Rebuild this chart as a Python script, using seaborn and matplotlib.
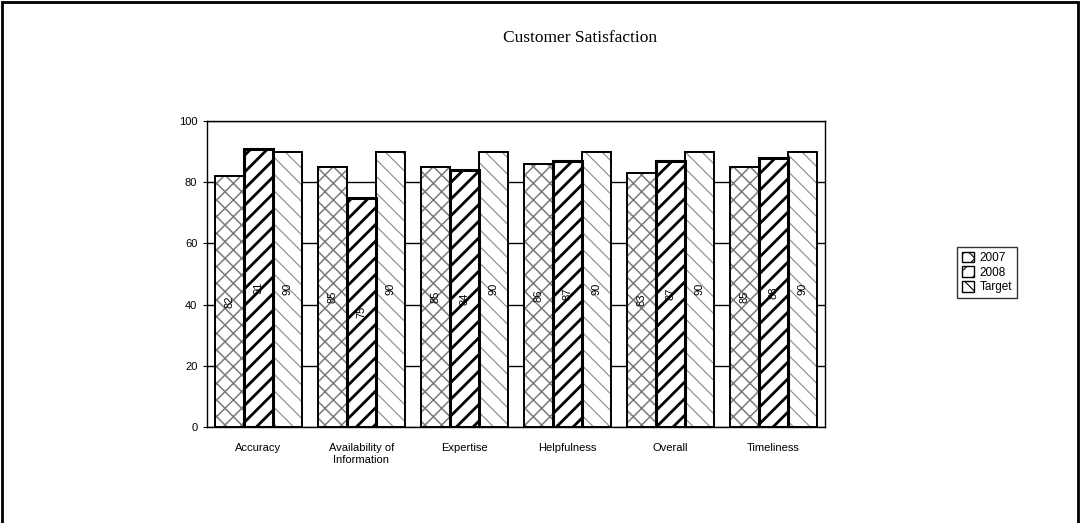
import matplotlib
matplotlib.use('agg')
import matplotlib.pyplot as plt
from matplotlib.patches import Rectangle, Patch
import pandas as pd
import seaborn as sns

categories = ["Accuracy", "Availability of\nInformation", "Expertise",
              "Helpfulness", "Overall", "Timeliness"]
vals_2007 = [82, 85, 85, 86, 83, 85]
vals_2008 = [91, 75, 84, 87, 87, 88]
vals_target = [90, 90, 90, 90, 90, 90]
series = ["2007", "2008", "Target"]

df = pd.DataFrame({
    "category": categories * 3,
    "series": [s for s in series for _ in categories],
    "value": vals_2007 + vals_2008 + vals_target,
})

sns.set_style("white")
plt.rcParams['font.family'] = ['Liberation Sans', 'DejaVu Sans']
plt.rcParams['text.color'] = 'black'
plt.rcParams['xtick.color'] = 'black'
plt.rcParams['ytick.color'] = 'black'
plt.rcParams['hatch.linewidth'] = 0.8

fig = plt.figure(figsize=(10.8, 5.23), dpi=100)
ax = fig.add_axes([0.1917, 0.1836, 0.572, 0.585])

sns.barplot(data=df, x="category", y="value", hue="series", order=categories,
            hue_order=series, width=0.85, gap=0, ax=ax, legend=False,
            palette=["white"] * 3, saturation=1)

# hatch pattern, hatch colour, hatch width per series
styles = [("xx", "#7a7a7a", 1.1), ("//", "black", 2.0), ("\\\\", "#888888", 0.8)]
for cont, (h, hc, hw) in zip(ax.containers, styles):
    for p in cont:
        p.set_facecolor("white")
        p.set_edgecolor(hc)
        p.set_hatch(h)
        p.set_linewidth(0)
        if hasattr(p, "set_hatch_linewidth"):
            p.set_hatch_linewidth(hw)
        ax.add_patch(Rectangle(p.get_xy(), p.get_width(), p.get_height(),
                               fill=False, ec="black",
                               lw=2.2 if h == "//" else 1.4, zorder=3))
    ax.bar_label(cont, labels=[str(int(v)) for v in cont.datavalues],
                 label_type="center", rotation=90, fontsize=8, color="black",
                 zorder=4)

ax.set_ylim(0, 100)
ax.set_xlim(-0.5, 5.5)
ax.set_yticks([0, 20, 40, 60, 80, 100])
ax.yaxis.grid(True, color="black", lw=1)
ax.set_axisbelow(True)
for s in ax.spines.values():
    s.set_color("black")
    s.set_linewidth(1)
ax.tick_params(axis="y", left=True, length=3, color="black", labelsize=8, pad=4)
ax.tick_params(axis="x", bottom=False, labelsize=8, pad=8)
ax.set_xlabel("")
ax.set_ylabel("")

handles = [Patch(facecolor="white", edgecolor="black", hatch=h, lw=1)
           for h, _, _ in styles]
leg = ax.legend(handles, series, loc="center left", bbox_to_anchor=(1.205, 0.505),
                frameon=True, fancybox=False, fontsize=8.5, handlelength=1.0,
                handleheight=1.0, handletextpad=0.5, borderpad=0.4,
                labelspacing=0.2)
leg.get_frame().set_edgecolor("black")
leg.get_frame().set_linewidth(1)

fig.text(0.537, 0.928, "Customer Satisfaction", ha="center", va="center",
         fontsize=12.5, family=["Liberation Serif", "DejaVu Serif"])

fig.add_artist(Rectangle((0.002, -0.01), 0.996, 1.006, transform=fig.transFigure,
                         fill=False, ec="black", lw=2))

fig.savefig("out.png", dpi=100)
